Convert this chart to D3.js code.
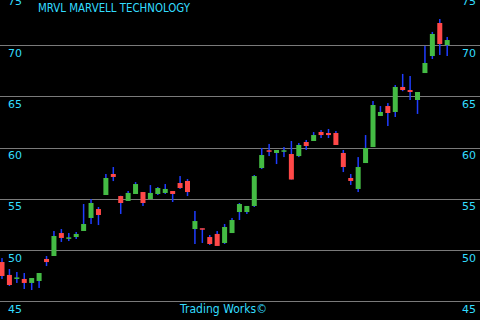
<!DOCTYPE html>
<html>
<head>
<meta charset="utf-8">
<script src="https://cdn.jsdelivr.net/npm/d3@7"></script>
<style>
html,body{margin:0;padding:0;background:#000;}
svg{display:block;}
</style>
</head>
<body>
<svg id="chart" width="480" height="320"></svg>
<script>
const title = "MRVL  MARVELL TECHNOLOGY";
const footer = "Trading Works\u00A9";
const tickValues = [45, 50, 55, 60, 65, 70, 75];
const openVals  = [48.83,47.57,47.24,47.18,46.79,46.98,49.13,49.42,51.66,51.15,51.27,51.86,53.13,54.00,55.37,57.42,55.27,54.79,55.47,55.66,54.98,55.47,55.57,55.76,56.54,56.74,52.05,52.08,51.27,51.57,50.69,51.66,53.71,53.71,54.30,58.00,59.68,59.47,59.64,59.37,59.17,60.54,60.64,61.52,61.42,61.42,59.47,57.03,55.96,58.49,60.05,63.08,64.05,63.47,65.91,65.61,64.64,67.27,68.93,72.15,70.00];
const highVals  = [49.22,48.15,47.86,47.76,47.27,47.76,49.42,51.86,52.05,51.66,51.76,54.49,54.98,54.20,57.42,58.10,55.30,55.76,56.63,55.66,56.34,56.15,56.44,55.76,57.22,56.93,53.81,52.10,51.47,51.86,52.54,53.13,54.59,54.30,57.32,59.96,60.35,59.76,60.05,60.64,60.44,60.74,61.51,61.71,61.81,61.61,59.76,57.42,59.07,61.22,64.54,64.05,64.34,66.10,67.18,66.98,65.42,69.91,71.28,72.54,70.79];
const lowVals   = [47.18,46.49,46.79,46.20,46.10,46.30,48.44,49.42,50.79,50.88,51.08,51.86,52.54,52.44,55.37,56.73,53.52,54.79,55.47,54.30,54.98,55.37,55.47,54.69,55.96,55.27,50.59,50.69,50.49,50.40,50.59,51.66,52.93,53.52,54.20,57.90,59.17,58.39,59.07,56.88,59.07,59.76,60.64,60.93,60.93,60.25,57.61,56.35,55.66,58.49,60.05,63.08,62.10,62.98,65.50,64.64,63.28,67.27,68.64,69.03,68.93];
const closeVals = [47.47,46.59,47.27,46.79,47.27,47.76,48.83,51.37,51.18,51.18,51.57,52.54,54.59,53.42,57.03,57.13,54.59,55.57,56.44,54.59,55.57,56.05,55.96,55.47,56.05,55.66,52.83,52.03,50.59,50.40,52.25,52.93,54.49,54.30,57.22,59.27,59.64,59.76,59.68,56.88,60.25,60.15,61.22,61.22,61.22,60.25,58.10,56.74,58.10,59.96,64.15,63.47,63.37,65.91,65.61,65.42,65.42,68.25,71.08,70.10,70.49];

const W = 480, H = 320;
const cyan = "#33ddff", grid = "#7a7a7a", up = "#44bb44", down = "#ff4848", wick = "#1f3dff";
const svg = d3.select("#chart");
svg.append("rect").attr("width", W).attr("height", H).attr("fill", "#000");

const idx = d3.range(openVals.length);
const x = d3.scalePoint().domain(idx).range([2, 447.2]);
const y = d3.scaleLinear().domain([45, 75]).range([301.3, -6.2]);

// gridlines
svg.append("g").selectAll("line").data(tickValues).join("line")
  .attr("x1", 0).attr("x2", W)
  .attr("y1", d => Math.round(y(d)) + 0.5).attr("y2", d => Math.round(y(d)) + 0.5)
  .attr("stroke", grid).attr("stroke-width", 1);

// axes labels via d3 axes
const leftAxis = d3.axisRight(y).tickValues(tickValues).tickSize(0).tickPadding(0);
const gL = svg.append("g").attr("transform", "translate(8,0)").call(leftAxis);
const rightAxis = d3.axisRight(y).tickValues(tickValues).tickSize(0).tickPadding(0);
const gR = svg.append("g").attr("transform", "translate(462,0)").call(rightAxis);
[gL, gR].forEach(g => {
  g.select(".domain").remove();
  g.selectAll("text").attr("fill", cyan).attr("font-family", "DejaVu Sans, sans-serif")
    .attr("font-size", 11).attr("dy", "0").attr("y", 11).attr("text-anchor", "start");
});

// candles
const data = idx.map(i => ({i, o: openVals[i], h: highVals[i], l: lowVals[i], c: closeVals[i]}));
const cg = svg.append("g");
cg.selectAll("rect.wick").data(data).join("rect").attr("class", "wick")
  .attr("x", d => x(d.i) - 0.75).attr("width", 1.5)
  .attr("y", d => y(d.h)).attr("height", d => Math.max(1, y(d.l) - y(d.h)))
  .attr("fill", wick);
cg.selectAll("rect.body").data(data).join("rect").attr("class", "body")
  .attr("x", d => x(d.i) - 2.5).attr("width", 5)
  .attr("y", d => {
    const t = y(Math.max(d.o, d.c)), b = y(Math.min(d.o, d.c));
    return (b - t) < 1.5 ? (t + b) / 2 - 0.75 : t;
  })
  .attr("height", d => Math.max(1.5, y(Math.min(d.o, d.c)) - y(Math.max(d.o, d.c))))
  .attr("fill", d => d.c >= d.o ? up : down);

// title and footer
svg.append("text").attr("x", 38).attr("y", 12).text(title)
  .attr("fill", cyan).attr("font-family", "DejaVu Sans, sans-serif").attr("font-size", 12)
  .attr("textLength", 152).attr("lengthAdjust", "spacingAndGlyphs");
svg.append("text").attr("x", 180).attr("y", 313).text(footer)
  .attr("fill", cyan).attr("font-family", "DejaVu Sans, sans-serif").attr("font-size", 12)
  .attr("textLength", 87).attr("lengthAdjust", "spacingAndGlyphs");
</script>
</body>
</html>
